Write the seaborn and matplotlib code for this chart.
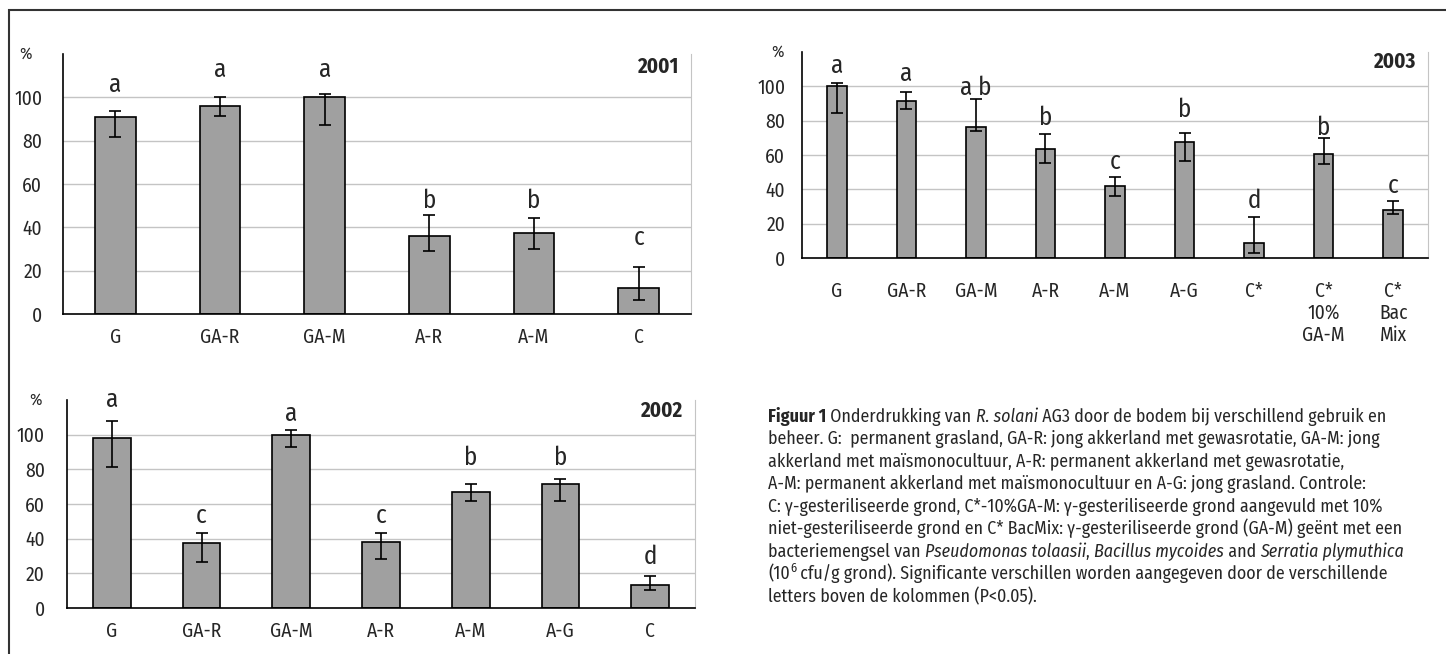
import numpy as np
import pandas as pd
import seaborn as sns
import matplotlib.pyplot as plt
from matplotlib.patches import Rectangle

sns.set_style('white')
plt.rcParams['font.family'] = ['Fira Sans Condensed', 'DejaVu Sans']

W, H = 1446, 654

# ---- 2001 ----
cats_2001 = ['G', 'GA-R', 'GA-M', 'A-R', 'A-M', 'C']
vals_2001 = [90.7, 96.1, 100.0, 36.2, 37.2, 12.1]
hi_2001 = [93.8, 100.0, 101.7, 45.8, 44.3, 21.5]
lo_2001 = [81.9, 91.2, 87.3, 29.0, 29.9, 6.3]
letters_2001 = ['a', 'a', 'a', 'b', 'b', 'c']
letter_y_2001 = [102.5, 109.2, 109.2, 48.8, 48.8, 31.7]

# ---- 2002 ----
cats_2002 = ['G', 'GA-R', 'GA-M', 'A-R', 'A-M', 'A-G', 'C']
vals_2002 = [97.9, 37.5, 100.0, 38.0, 66.8, 71.4, 13.5]
hi_2002 = [108.1, 43.2, 102.9, 43.2, 71.4, 74.7, 18.3]
lo_2002 = [81.1, 26.4, 93.0, 28.0, 61.6, 61.6, 10.6]
letters_2002 = ['a', 'c', 'a', 'c', 'b', 'b', 'd']
letter_y_2002 = [115.8, 49.2, 108.1, 49.2, 82.4, 82.4, 25.1]

# ---- 2003 ----
cats_2003 = ['G', 'GA-R', 'GA-M', 'A-R', 'A-M', 'A-G', 'C*', 'C*\n10%\nGA-M', 'C*\nBac\nMix']
vals_2003 = [100.0, 91.7, 76.3, 63.7, 42.1, 67.8, 8.5, 60.4, 28.2]
hi_2003 = [102.1, 96.9, 92.4, 72.0, 47.2, 73.0, 23.7, 69.7, 33.4]
lo_2003 = [84.7, 87.0, 74.0, 55.5, 36.1, 56.7, 2.7, 54.8, 25.8]
letters_2003 = ['a', 'a', 'a b', 'b', 'c', 'b', 'd', 'b', 'c']
letter_y_2003 = [108.0, 103.3, 95.0, 77.5, 51.7, 81.9, 28.9, 71.7, 37.7]

ytick_vals = [0, 20, 40, 60, 80, 100, 120]
ytick_labels = ['0', '20', '40', '60', '80', '100', '']

bar_color = '#a0a0a0'
grid_color = '#c4c4c4'


def draw_panel(ax, cats, vals, lo, hi, letters, letter_y, year, bar_w, xpad, ypad, pct_dx):
    n = len(cats)
    df = pd.DataFrame({'cat': cats, 'val': vals})
    sns.barplot(data=df, x='cat', y='val', color=bar_color, saturation=1,
                edgecolor='black', linewidth=1.2, width=bar_w, errorbar=None, ax=ax, zorder=2)
    pos = np.arange(n)
    v = np.array(vals)
    yerr = [v - np.array(lo), np.array(hi) - v]
    ax.errorbar(pos, v, yerr=yerr, fmt='none', ecolor='black', elinewidth=1.2,
                capsize=4.5, capthick=1.2, zorder=3)
    for x, lt, ly in zip(pos, letters, letter_y):
        ax.text(x, ly, lt, ha='center', va='baseline', fontsize=18, clip_on=False, zorder=4)

    ax.set_xlim(-0.5, n - 0.5)
    ax.set_ylim(0, 120)
    ax.set_yticks(ytick_vals)
    ax.set_yticklabels(ytick_labels, fontsize=14)
    ax.set_xticks(pos)
    ax.set_xticklabels(cats, fontsize=14, linespacing=1.15, va='top')
    ax.set_xticks(np.arange(-0.5, n, 1), minor=True)
    ax.tick_params(axis='x', which='major', length=0, pad=xpad)
    ax.tick_params(axis='x', which='minor', length=6, width=1.2, direction='out', color='black')
    ax.tick_params(axis='y', length=6, width=1.2, direction='out', color='black', pad=ypad)
    ax.set_xlabel('')
    ax.set_ylabel('')

    ax.yaxis.grid(True, color=grid_color, lw=1.0)
    ax.set_axisbelow(True)
    gl = ax.get_ygridlines()
    gl[0].set_visible(False)
    gl[-1].set_visible(False)

    ax.spines['top'].set_visible(False)
    ax.spines['right'].set_color(grid_color)
    ax.spines['left'].set_linewidth(1.2)
    ax.spines['bottom'].set_linewidth(1.2)
    ax.spines['left'].set_color('black')
    ax.spines['bottom'].set_color('black')

    ax.annotate('%', xy=(0, 120), xycoords=('axes fraction', 'data'), xytext=(pct_dx, 0),
                textcoords='offset pixels', ha='center', va='center', fontsize=12,
                annotation_clip=False)
    ax.text(0.98, 0.95, year, transform=ax.transAxes, ha='right', va='center',
            fontsize=15, fontweight='bold')


def px_axes(fig, left, right, bottom, top):
    return fig.add_axes([left / W, 1 - bottom / H, (right - left) / W, (bottom - top) / H])


fig = plt.figure(figsize=(W / 100, H / 100), dpi=100)

ax1 = px_axes(fig, 63, 691, 314, 54)
draw_panel(ax1, cats_2001, vals_2001, lo_2001, hi_2001, letters_2001, letter_y_2001,
           '2001', 0.39, 10, 9, -38)

ax2 = px_axes(fig, 67, 695, 608, 400)
draw_panel(ax2, cats_2002, vals_2002, lo_2002, hi_2002, letters_2002, letter_y_2002,
           '2002', 0.42, 10, 10, -31)

ax3 = px_axes(fig, 802, 1428, 258, 52)
draw_panel(ax3, cats_2003, vals_2003, lo_2003, hi_2003, letters_2003, letter_y_2003,
           '2003', 0.28, 17, 6, -24)

# outer frame
fig.add_artist(Rectangle((9 / W, -0.1), 1.2, 1 - 10 / H + 0.1, transform=fig.transFigure,
                         fill=False, edgecolor='#333333', lw=1.5))

# caption
cap = fig.add_axes([0, 0, 1, 1])
cap.axis('off')
caption_lines = [
    [('Figuur 1', 'b'), (' Onderdrukking van ', 'n'), ('R. solani', 'i'),
     (' AG3 door de bodem bij verschillend gebruik en', 'n')],
    [('beheer. G:  permanent grasland, GA-R: jong akkerland met gewasrotatie, GA-M: jong', 'n')],
    [('akkerland met maïsmonocultuur, A-R: permanent akkerland met gewasrotatie,', 'n')],
    [('A-M: permanent akkerland met maïsmonocultuur en A-G: jong grasland. Controle:', 'n')],
    [('C: γ-gesteriliseerde grond, C*-10%GA-M: γ-gesteriliseerde grond aangevuld met 10%', 'n')],
    [('niet-gesteriliseerde grond en C* BacMix: γ-gesteriliseerde grond (GA-M) geënt met een', 'n')],
    [('bacteriemengsel van ', 'n'), ('Pseudomonas tolaasii', 'i'), (', ', 'n'),
     ('Bacillus mycoides', 'i'), (' and ', 'n'), ('Serratia plymuthica', 'i')],
    [('(10', 'n'), ('6', 'sup'),
     (' cfu/g grond). Significante verschillen worden aangegeven door de verschillende', 'n')],
    [('letters boven de kolommen (P<0.05).', 'n')],
]
cap_size = 12.85
x0 = 768 / W
for i, segs in enumerate(caption_lines):
    yb = 1 - (421.5 + 22.6 * i) / H
    first = None
    prev = None
    for txt, st in segs:
        kw = dict(fontsize=cap_size)
        if st == 'b':
            kw['fontweight'] = 'bold'
        if st == 'i':
            kw['fontstyle'] = 'italic'
        if first is None:
            t = cap.text(x0, yb, txt, transform=fig.transFigure, ha='left', va='baseline', **kw)
            first = t
        elif st == 'sup':
            kw['fontsize'] = 9
            t = cap.annotate(txt, xy=(1, 0), xycoords=(prev, first), xytext=(0.3, 6.5),
                             textcoords='offset points', ha='left', va='bottom', **kw)
        else:
            t = cap.annotate(txt, xy=(1, 0), xycoords=(prev, first), xytext=(0, 0),
                             textcoords='offset points', ha='left', va='bottom', **kw)
        prev = t

fig.savefig('out.png', dpi=100)
